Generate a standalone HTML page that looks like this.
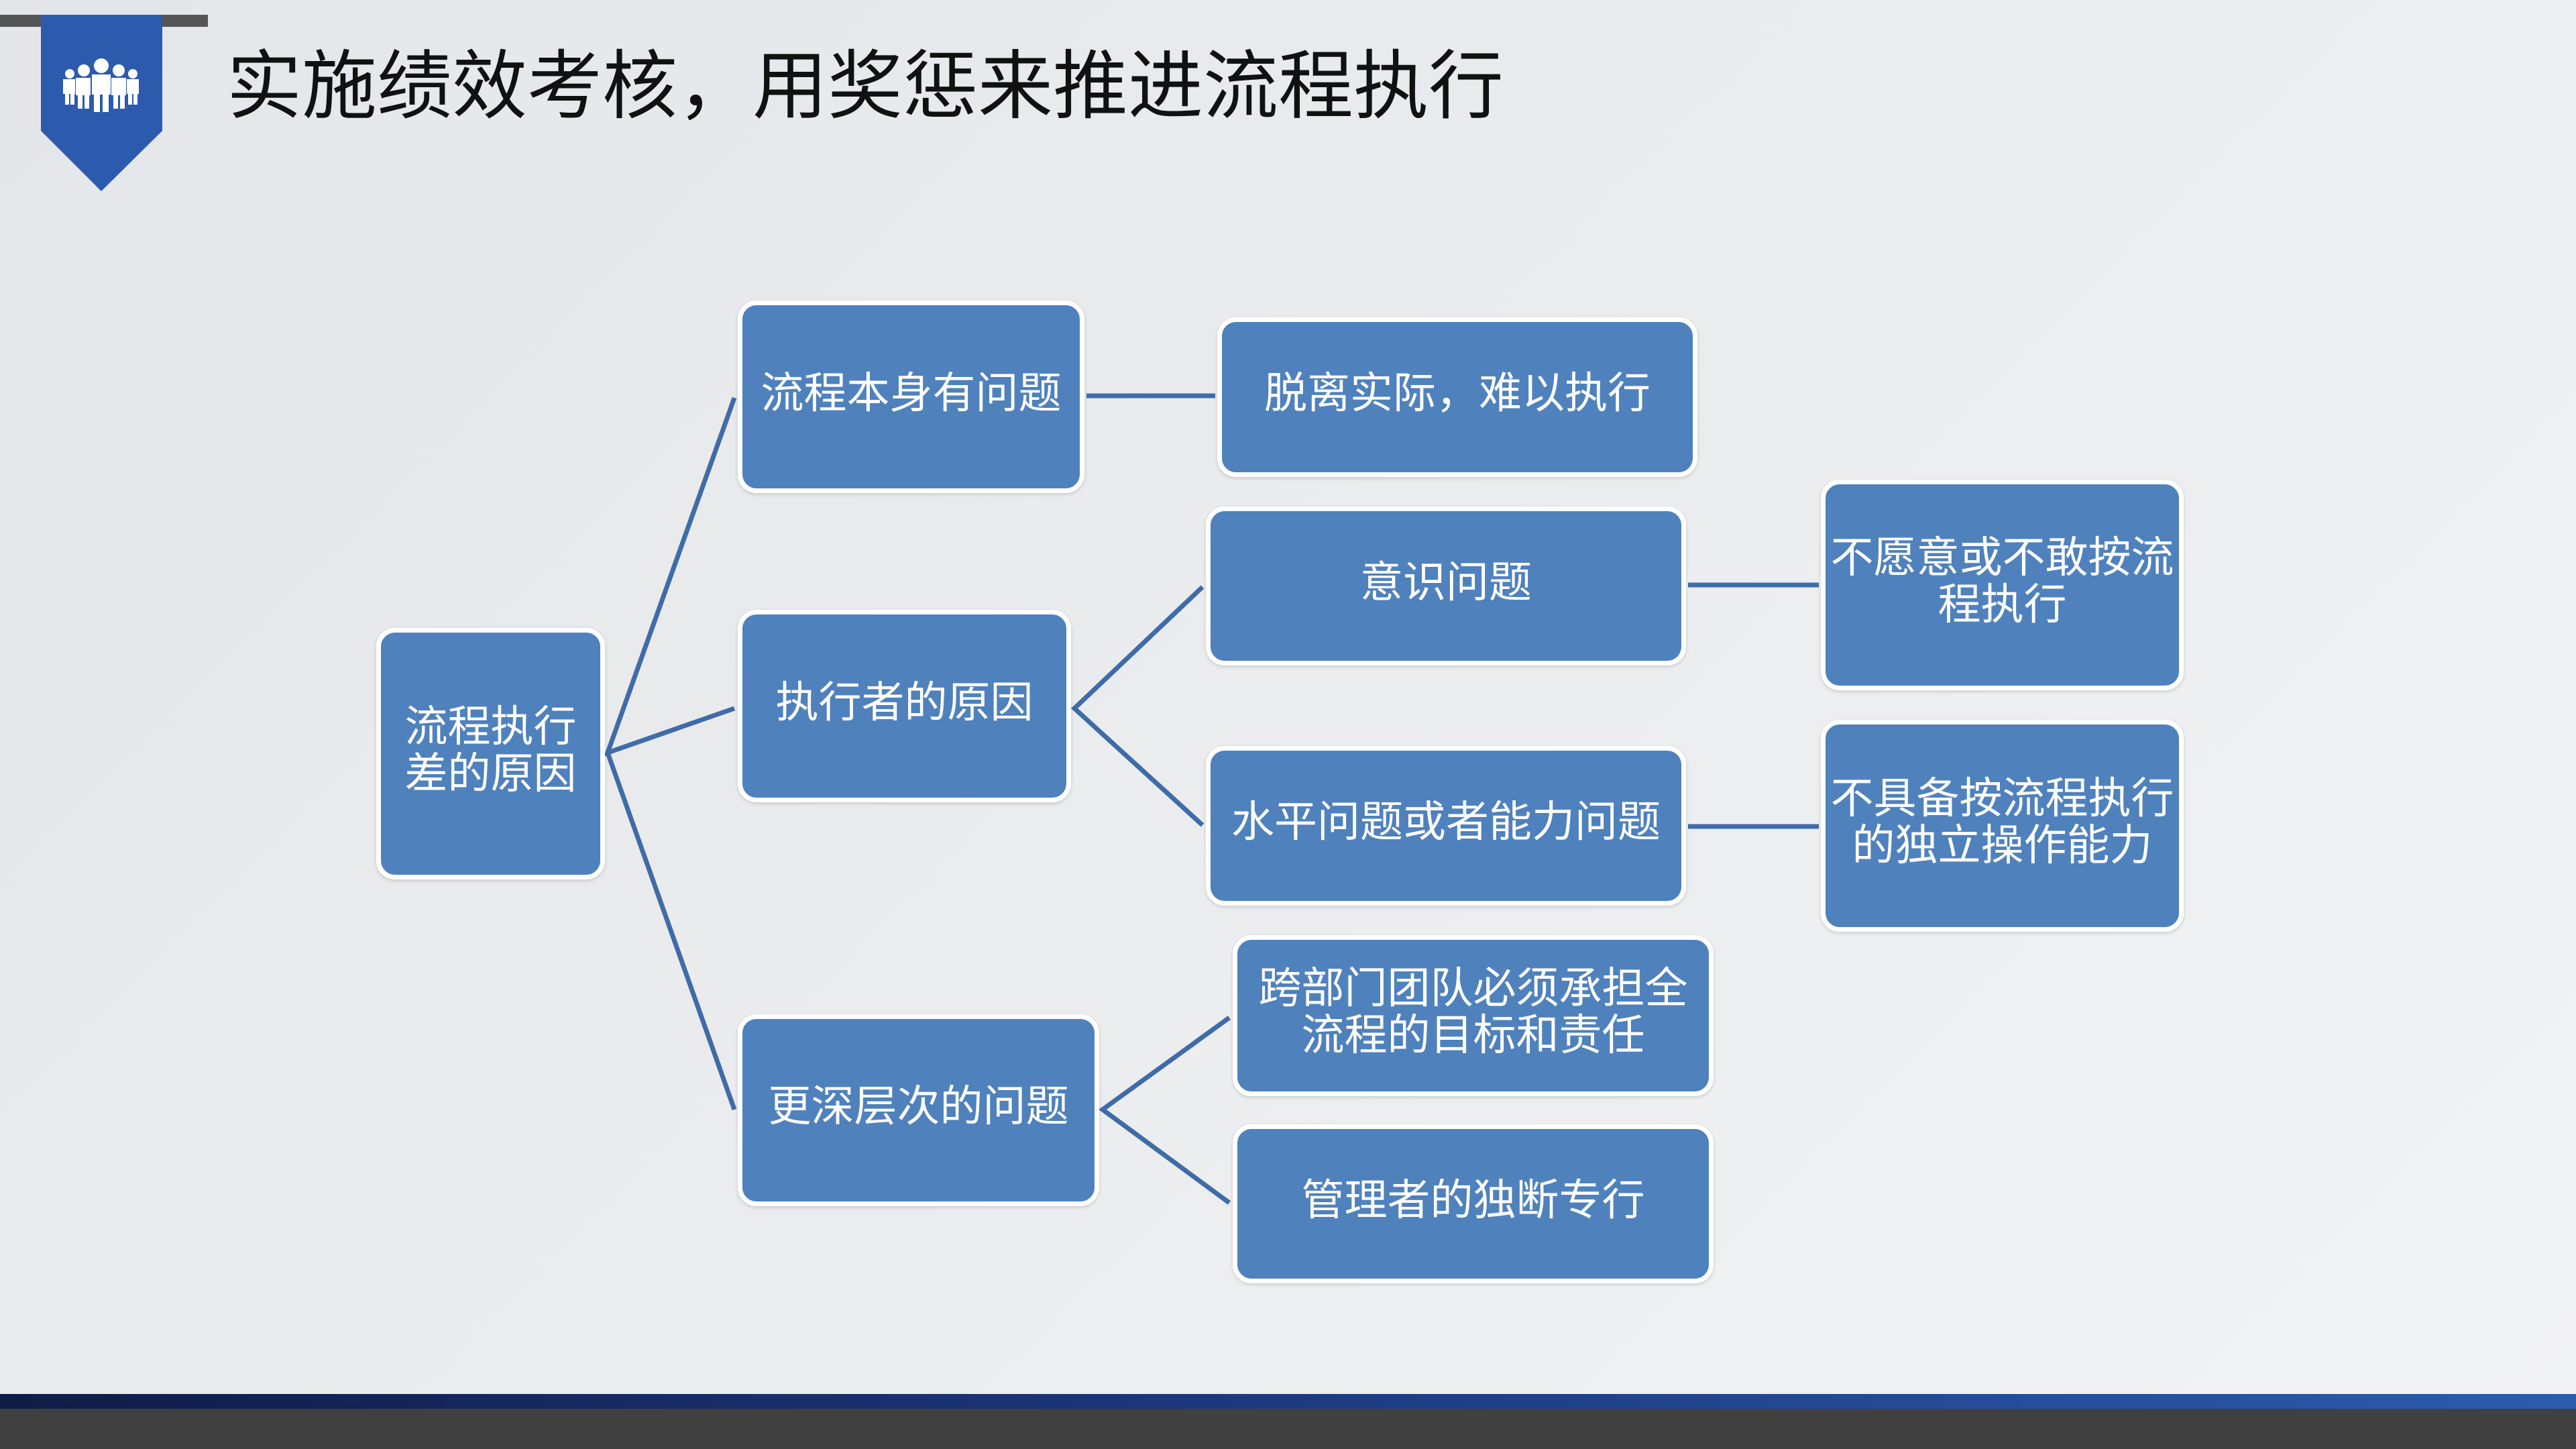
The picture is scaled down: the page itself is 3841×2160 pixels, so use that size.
<!DOCTYPE html>
<html><head><meta charset="utf-8"><style>
html,body{margin:0;padding:0}
body{width:3841px;height:2160px;position:relative;overflow:hidden;background:linear-gradient(135deg,#e4e6e9 0%,#eaecee 50%,#f2f3f4 100%);font-family:"Liberation Sans","Noto Sans CJK SC",sans-serif}
.b{position:absolute;box-sizing:border-box;background:#4f81bd;border:7px solid #fff;border-radius:28px;color:#fff;font-size:64px;line-height:70px;display:flex;align-items:center;justify-content:center;text-align:center;box-shadow:0 2px 6px rgba(0,0,0,.15);padding-bottom:12px}
</style></head><body>
<svg width="3841" height="2160" style="position:absolute;left:0;top:0">
<rect x="0" y="22" width="310" height="18" fill="#555"/>
<polygon points="61,22 242,22 242,195 151,285 61,195" fill="#2c5aad"/>
<g fill="#fff">
<circle cx="151" cy="98" r="11"/><rect x="137" y="111" width="28" height="30"/><rect x="140" y="140" width="9" height="27"/><rect x="153" y="140" width="9" height="27"/>
<circle cx="125" cy="105" r="9"/><rect x="113" y="116" width="22" height="26"/><rect x="116" y="140" width="7" height="22"/><rect x="126" y="140" width="7" height="22"/>
<circle cx="177" cy="105" r="9"/><rect x="166" y="116" width="22" height="26"/><rect x="169" y="140" width="7" height="22"/><rect x="179" y="140" width="7" height="22"/>
<circle cx="104" cy="110" r="7"/><rect x="94" y="118" width="18" height="22"/><rect x="97" y="138" width="6" height="18"/><rect x="105" y="138" width="6" height="18"/>
<circle cx="198" cy="110" r="7"/><rect x="189" y="118" width="18" height="22"/><rect x="191" y="138" width="6" height="18"/><rect x="199" y="138" width="6" height="18"/>
</g>
<g stroke="#3f6ca8" stroke-width="7" fill="none">
<polyline points="1095,593 906,1122 1095,1056"/>
<line x1="906" y1="1122" x2="1095" y2="1654"/>
<line x1="1620" y1="590" x2="1812" y2="590"/>
<polyline points="1793,875 1602,1056 1793,1230"/>
<line x1="2517" y1="872" x2="2712" y2="872"/>
<line x1="2517" y1="1232" x2="2712" y2="1232"/>
<polyline points="1833,1517 1644,1654 1833,1793"/>
</g>
<rect x="0" y="2078" width="3841" height="22" fill="url(#g)"/>
<defs><linearGradient id="g"><stop offset="0" stop-color="#0f1c45"/><stop offset="0.5" stop-color="#1d3a80"/><stop offset="1" stop-color="#2c5cad"/></linearGradient></defs>
<rect x="0" y="2100" width="3841" height="60" fill="#404040"/>
</svg>
<div style="position:absolute;left:338px;top:64px;font-size:112px;line-height:130px;color:#111;white-space:nowrap">实施绩效考核，用奖惩来推进流程执行</div>
<div class="b" style="left:561px;top:936px;width:341px;height:375px">流程执行<br>差的原因</div>
<div class="b" style="left:1100px;top:448px;width:517px;height:287px">流程本身有问题</div>
<div class="b" style="left:1100px;top:909px;width:497px;height:287px">执行者的原因</div>
<div class="b" style="left:1100px;top:1512px;width:539px;height:286px">更深层次的问题</div>
<div class="b" style="left:1815px;top:473px;width:716px;height:238px">脱离实际，难以执行</div>
<div class="b" style="left:1798px;top:755px;width:716px;height:237px">意识问题</div>
<div class="b" style="left:1798px;top:1112px;width:716px;height:238px">水平问题或者能力问题</div>
<div class="b" style="left:2715px;top:715px;width:541px;height:314px">不愿意或不敢按流<br>程执行</div>
<div class="b" style="left:2715px;top:1073px;width:541px;height:316px">不具备按流程执行<br>的独立操作能力</div>
<div class="b" style="left:1838px;top:1394px;width:717px;height:240px">跨部门团队必须承担全<br>流程的目标和责任</div>
<div class="b" style="left:1838px;top:1676px;width:717px;height:237px">管理者的独断专行</div>
</body></html>
